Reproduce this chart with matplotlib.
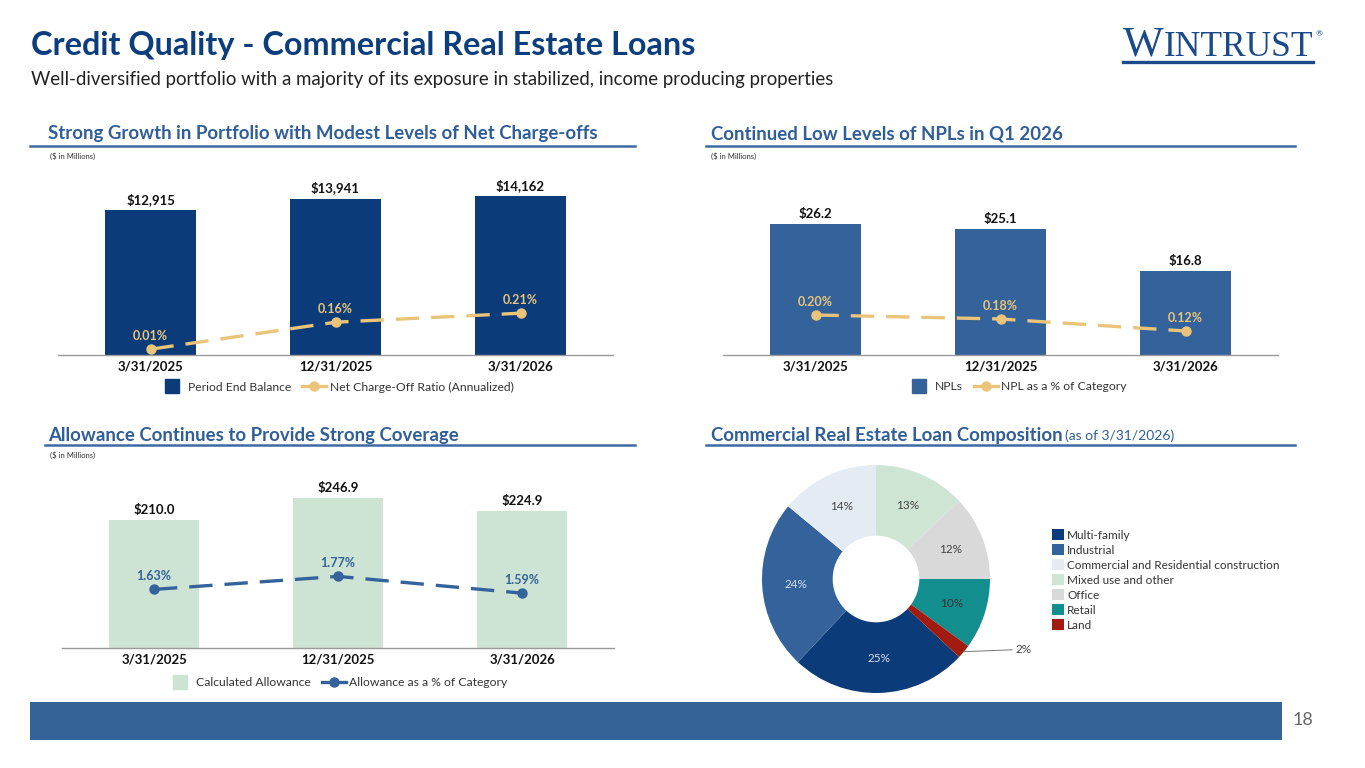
import matplotlib
matplotlib.use('Agg')
import matplotlib.pyplot as plt
from matplotlib.lines import Line2D
from matplotlib.patches import Rectangle
import numpy as np

W, H = 1365, 768
plt.rcParams['font.family'] = ['Lato', 'DejaVu Sans']

# ---------------- data ----------------
dates = ['3/31/2025', '12/31/2025', '3/31/2026']
balance = [12915, 13941, 14162]
nco_ratio = [0.01, 0.16, 0.21]
npls = [26.2, 25.1, 16.8]
npl_pct = [0.20, 0.18, 0.12]
allowance = [210.0, 246.9, 224.9]
allow_pct = [1.63, 1.77, 1.59]
comp_labels = ['Multi-family', 'Industrial', 'Commercial and Residential construction',
               'Mixed use and other', 'Office', 'Retail', 'Land']
comp_values = [25, 24, 14, 13, 12, 10, 2]

# ---------------- styles ----------------
NAVY = '#0b3b78'
MID = '#33639a'
GOLD = '#e9c47a'
GREEN = '#cde3d3'
TITLE_C = '#0c3d7c'
SEC_C = '#2f5e98'
SEC_LINE = '#3d6ba3'
comp_colors = ['#0b3b78', '#33639a', '#e4ebf3', '#cfe5d3', '#d9d9d9', '#138e8e', '#a11b10']
comp_txt = ['#d6dfea', '#d6dfea', '#444444', '#444444', '#444444', '#333333', '#444444']

fig = plt.figure(figsize=(W / 100, H / 100), dpi=100)
fig.patch.set_facecolor('white')
renderer = fig.canvas.get_renderer()


def fx(x):
    return x / W


def fy(y):
    return 1 - y / H


def add_ax(x0, y0, x1, y1):
    return fig.add_axes([x0 / W, 1 - y1 / H, (x1 - x0) / W, (y1 - y0) / H])


# ---------------- header ----------------
fig.text(fx(31), fy(45), 'Credit Quality - Commercial Real Estate Loans', fontsize=23.3,
         fontweight='bold', color=TITLE_C, va='center', ha='left')
fig.text(fx(31), fy(79), 'Well-diversified portfolio with a majority of its exposure in stabilized, '
         'income producing properties', fontsize=13.4, color='#222222', va='center', ha='left')

# logo
LOGO = '#1b4a88'
tw = fig.text(fx(1123), fy(56), 'W', fontsize=31, family='Liberation Serif', color=LOGO,
              va='baseline', ha='left')
bb = tw.get_window_extent(renderer)
ti = fig.text(bb.x1 / W, fy(56), 'INTRUST', fontsize=25.5, family='Liberation Serif',
              color=LOGO, va='baseline', ha='left')
bb2 = ti.get_window_extent(renderer)
fig.text(bb2.x1 / W + 0.002, fy(34), '®', fontsize=6, color=LOGO, va='center', ha='left')
fig.add_artist(Line2D([fx(1123), bb2.x1 / W], [fy(61.5)] * 2, color=LOGO, lw=2.4))


def section(x_text, y_text, x0, x1, y_line, text, extra=None):
    t = fig.text(fx(x_text), fy(y_text), text, fontsize=13.4, fontweight='bold', color=SEC_C,
                 va='center', ha='left')
    if extra:
        b = t.get_window_extent(renderer)
        fig.text(b.x1 / W + 0.0015, fy(y_text + 1), extra, fontsize=10, color=SEC_C,
                 va='center', ha='left')
    fig.add_artist(Line2D([fx(x0), fx(x1)], [fy(y_line)] * 2, color=SEC_LINE, lw=1.8))


section(48, 134, 30, 635, 146, 'Strong Growth in Portfolio with Modest Levels of Net Charge-offs')
section(711, 134, 706, 1295, 146, 'Continued Low Levels of NPLs in Q1 2026')
section(48, 435, 45, 635, 445, 'Allowance Continues to Provide Strong Coverage')
section(711, 435, 706, 1295, 445, 'Commercial Real Estate Loan Composition', '(as of 3/31/2026)')

for (x, y) in [(50, 156), (711, 156), (50, 455)]:
    fig.text(fx(x), fy(y), '($ in Millions)', fontsize=5.5, color='#333333', va='center', ha='left')


# ---------------- combo charts ----------------
def combo(x0, x1, ytop, ybase, bars, bar_color, bar_fmt, bar_ylim,
          line, line_color, line_ylim, line_fmt, labels, leg_cx, leg_y):
    ax = add_ax(x0, ytop, x1, ybase)
    xs = np.arange(len(dates))
    ax.bar(xs, bars, width=0.49, color=bar_color, zorder=2)
    ax.set_xlim(-0.5, len(dates) - 0.5)
    ax.set_ylim(*bar_ylim)
    for s in ['top', 'right', 'left']:
        ax.spines[s].set_visible(False)
    ax.spines['bottom'].set_color('#9a9a9a')
    ax.spines['bottom'].set_linewidth(1.0)
    ax.set_yticks([])
    ax.set_xticks(xs)
    ax.set_xticklabels(dates, fontsize=9.5, fontweight='bold', color='#111111')
    ax.tick_params(axis='x', length=0, pad=4)
    ax.patch.set_alpha(0)
    for x, v in zip(xs, bars):
        ax.annotate(bar_fmt(v), (x, v), xytext=(0, 3), textcoords='offset points',
                    ha='center', va='bottom', fontsize=9.5, fontweight='bold', color='#111111')
    ax2 = ax.twinx()
    ax2.set_ylim(*line_ylim)
    ax2.axis('off')
    ax2.plot(xs, line, color=line_color, lw=2.4, dashes=(7, 3.6), marker='o', markersize=6.5,
             zorder=3, solid_capstyle='butt')
    for x, v in zip(xs, line):
        ax2.annotate(line_fmt(v), (x, v), xytext=(0, 9.5), textcoords='offset points',
                     ha='center', va='center', fontsize=9, fontweight='bold', color=line_color)
    handles = [Line2D([], [], marker='s', ls='none', color=bar_color, markersize=10),
               Line2D([], [], color=line_color, lw=2.4, marker='o', markersize=6.5)]
    fig.legend(handles, labels, loc='center', bbox_to_anchor=(fx(leg_cx), fy(leg_y)), ncol=2,
               frameon=False, fontsize=8.7, handlelength=2.0, columnspacing=0.9,
               handletextpad=0.3, labelcolor='#333333')
    return ax


combo(58, 613, 170, 355, balance, NAVY, lambda v: f'${v:,.0f}', (0, 16480),
      nco_ratio, GOLD, (-4 / 180, 181 / 180), lambda v: f'{v:.2f}%',
      ['Period End Balance', 'Net Charge-Off Ratio (Annualized)'], 337, 387)

combo(723, 1278, 170, 355, npls, MID, lambda v: f'${v:.1f}', (0, 37),
      npl_pct, GOLD, (-0.0, 0.925), lambda v: f'{v:.2f}%',
      ['NPLs', 'NPL as a % of Category'], 1017, 387)

combo(62, 614, 470, 648, allowance, GREEN, lambda v: f'${v:.1f}', (0, 293),
      allow_pct, MID, (1.0, 1.0 + 178 / 93), lambda v: f'{v:.2f}%',
      ['Calculated Allowance', 'Allowance as a % of Category'], 338, 683)

# ---------------- donut ----------------
axp = add_ax(762, 465, 990, 693)
total = sum(comp_values)
start = 90 + 360 * sum(comp_values[:3]) / total
wedges, _ = axp.pie(comp_values, colors=comp_colors, startangle=start, counterclock=False,
                    radius=1.0, wedgeprops=dict(width=0.62, linewidth=0))
axp.set_xlim(-1, 1)
axp.set_ylim(-1, 1)
for i, w in enumerate(wedges):
    ang = np.deg2rad((w.theta1 + w.theta2) / 2)
    pct = f'{comp_values[i] / total * 100:.0f}%'
    if comp_values[i] / total < 0.05:
        ex, ey = np.cos(ang), np.sin(ang)
        axp.annotate(pct, xy=(ex, ey), xytext=(1.22, ey + 0.02), textcoords='data',
                     ha='left', va='center', fontsize=8.5, color='#444444',
                     arrowprops=dict(arrowstyle='-', color='#777777', lw=0.7,
                                     shrinkA=0, shrinkB=0), annotation_clip=False)
    else:
        r = 0.70
        axp.text(r * np.cos(ang), r * np.sin(ang), pct, ha='center', va='center',
                 fontsize=8.5, color=comp_txt[i])

axp.legend(wedges, comp_labels, loc='upper left', bbox_to_anchor=(fx(1052), fy(529)),
           bbox_transform=fig.transFigure, frameon=False, fontsize=8.5, handlelength=1.05,
           handleheight=1.05, handletextpad=0.25, labelspacing=0.3, borderpad=0,
           borderaxespad=0, labelcolor='#333333')

# ---------------- footer ----------------
fig.add_artist(Rectangle((fx(30), fy(740)), (1282 - 30) / W, 38 / H, transform=fig.transFigure,
                         color='#336398', lw=0))
fig.text(fx(1303), fy(720), '18', fontsize=13, color='#666666', ha='center', va='center')

fig.savefig('out.png', dpi=100, facecolor='white')
